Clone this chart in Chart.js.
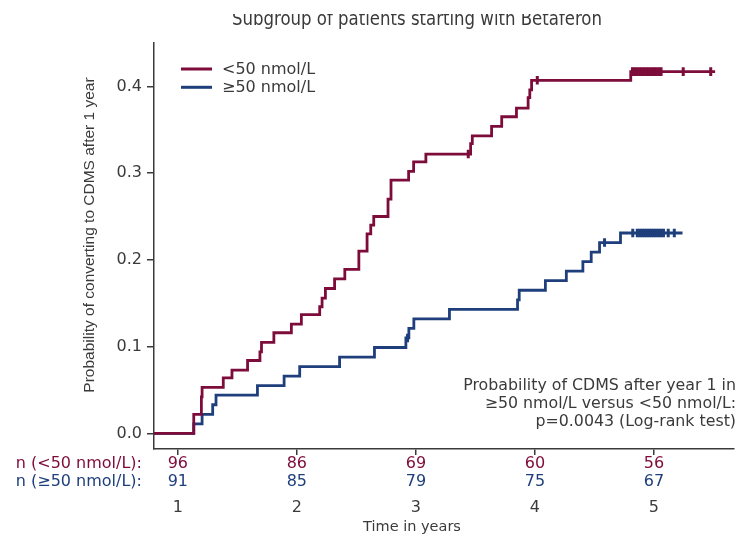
<!DOCTYPE html>
<html lang="en">
  <head>
    <meta charset="utf-8" />
    <title>CDMS after year 1 - Betaferon subgroup</title>
    <style>
      * {
        margin: 0;
        padding: 0;
      }
      body {
        background: white;
        width: 741px;
        height: 535px;
        overflow: hidden;
      }
    </style>
  </head>
  <body>
    <canvas id="kmChart" width="741" height="535"></canvas>

    <script src="https://cdn.jsdelivr.net/npm/chart.js"></script>
    <script>
      // ---- data ----
      const chartTitle = "Subgroup of patients starting with Betaferon";
      const yTitle = "Probability of converting to CDMS after 1 year";
      const xTitle = "Time in years";
      const groupLabels = ["<50 nmol/L", "≥50 nmol/L"];
      const riskRowLabels = ["n (<50 nmol/L):", "n (≥50 nmol/L):"];
      const noteLines = [
        "Probability of CDMS after year 1 in",
        "≥50 nmol/L versus <50 nmol/L:",
        "p=0.0043 (Log-rank test)",
      ];

      const xTicks = [1, 2, 3, 4, 5];
      const yTicks = [0, 0.1, 0.2, 0.3, 0.4];
      const atRiskLow = [96, 86, 69, 60, 56];
      const atRiskHigh = [91, 85, 79, 75, 67];

      // <50 nmol/L : step times and cumulative probability after each step
      const lowTimes = [
        0.8, 1.134, 1.198, 1.204, 1.382, 1.455, 1.586, 1.69, 1.703, 1.807,
        1.954, 2.038, 2.192, 2.212, 2.24, 2.317, 2.403, 2.521, 2.59, 2.621,
        2.646, 2.766, 2.791, 2.939, 2.981, 3.084, 3.46, 3.474, 3.636, 3.721,
        3.845, 3.943, 3.957, 3.972, 4.805, 5.514,
      ];
      const lowProb = [
        0, 0.022, 0.042, 0.053, 0.064, 0.073, 0.084, 0.094, 0.105, 0.116,
        0.126, 0.137, 0.146, 0.156, 0.167, 0.178, 0.189, 0.21, 0.23, 0.24,
        0.25, 0.27, 0.292, 0.302, 0.313, 0.322, 0.334, 0.343, 0.354, 0.365,
        0.375, 0.387, 0.396, 0.407, 0.417, 0.417,
      ];
      const lowCensor = [
        3.44, 4.02, 4.82, 4.84, 4.86, 4.88, 4.9, 4.92, 4.94, 4.96, 4.98, 5.0,
        5.02, 5.04, 5.06, 5.246, 5.477,
      ];

      // >=50 nmol/L
      const highTimes = [
        0.8, 1.134, 1.204, 1.293, 1.321, 1.669, 1.893, 2.024, 2.359, 2.652,
        2.916, 2.941, 2.983, 3.282, 3.854, 3.868, 4.088, 4.264, 4.403, 4.473,
        4.543, 4.719, 5.24,
      ];
      const highProb = [
        0, 0.011, 0.022, 0.033, 0.044, 0.055, 0.066, 0.077, 0.088, 0.099,
        0.11, 0.121, 0.132, 0.143, 0.154, 0.165, 0.176, 0.187, 0.198, 0.209,
        0.22, 0.231, 0.231,
      ];
      const highCensor = [
        2.93, 4.585, 4.822, 4.86, 4.88, 4.9, 4.92, 4.94, 4.96, 4.98, 5.0,
        5.02, 5.04, 5.06, 5.08, 5.12, 5.171,
      ];

      // ---- styles ----
      const RED = "#7d0c3b";
      const BLUE = "#1e3f7b";
      const AXIS = "#3a3a3a";
      const TEXT = "#3a3a3a";
      const SANS = "'DejaVu Sans', sans-serif";
      const NARROW = "'Liberation Sans Narrow', 'DejaVu Sans Condensed', sans-serif";

      const toPoints = (ts, ps) => ts.map((t, i) => ({ x: t, y: ps[i] }));
      const valueAt = (ts, ps, t) => {
        let v = ps[0];
        ts.forEach((tt, i) => {
          if (tt <= t) v = ps[i];
        });
        return v;
      };
      const censorPoints = (cs, ts, ps) =>
        cs.map((t) => ({ x: t, y: valueAt(ts, ps, t) }));

      // KM curve: horizontal first, then jump at the event time
      const curve = (label, data, color) => ({
        label,
        data,
        showLine: true,
        stepped: "before",
        borderColor: color,
        borderWidth: 2.8,
        pointRadius: 0,
        fill: false,
      });
      const censor = (data, color) => ({
        data,
        showLine: false,
        pointStyle: "line",
        rotation: 90,
        pointRadius: 4.3,
        borderColor: color,
        borderWidth: 3,
      });

      // draw text squeezed/stretched to a given width
      function fitText(ctx, text, cx, y, width, font, color) {
        ctx.save();
        ctx.font = font;
        ctx.fillStyle = color;
        ctx.textAlign = "center";
        ctx.textBaseline = "alphabetic";
        const k = width / ctx.measureText(text).width;
        ctx.translate(cx, y);
        ctx.scale(k, 1);
        ctx.fillText(text, 0, 0);
        ctx.restore();
      }

      // titles, legend, risk table and note
      const overlayText = {
        id: "overlayText",
        afterDraw(chart) {
          const {
            ctx,
            scales: { x },
          } = chart;

          // title (top edge is cropped in the source figure)
          ctx.save();
          ctx.beginPath();
          ctx.rect(0, 14, chart.width, 30);
          ctx.clip();
          fitText(ctx, chartTitle, 417, 25, 370, "20px " + NARROW, TEXT);
          ctx.restore();

          ctx.save();
          ctx.fillStyle = TEXT;

          // y axis title
          ctx.save();
          ctx.translate(90, 235);
          ctx.rotate(-Math.PI / 2);
          ctx.font = "15.5px 'Liberation Sans', sans-serif";
          ctx.textAlign = "center";
          ctx.textBaseline = "middle";
          ctx.fillText(yTitle, 0, 0);
          ctx.restore();

          // legend
          [RED, BLUE].forEach((c, i) => {
            const y = 69 + i * 18.3;
            ctx.strokeStyle = c;
            ctx.lineWidth = 3;
            ctx.beginPath();
            ctx.moveTo(181, y);
            ctx.lineTo(212, y);
            ctx.stroke();
            ctx.fillStyle = TEXT;
            ctx.font = "16px " + SANS;
            ctx.textAlign = "left";
            ctx.textBaseline = "middle";
            ctx.fillText(groupLabels[i], 222, y + 1);
          });

          // numbers at risk
          const rows = [
            [atRiskLow, RED, 464],
            [atRiskHigh, BLUE, 482],
          ];
          rows.forEach(([vals, c, y], i) => {
            ctx.fillStyle = c;
            ctx.textBaseline = "middle";
            ctx.font = "16px " + SANS;
            ctx.textAlign = "right";
            ctx.fillText(riskRowLabels[i], 142, y);
            ctx.textAlign = "center";
            vals.forEach((v, j) => {
              ctx.fillText(v, x.getPixelForValue(xTicks[j]), y);
            });
          });

          // x axis title
          ctx.fillStyle = TEXT;
          ctx.font = "14.5px " + SANS;
          ctx.textAlign = "center";
          ctx.textBaseline = "middle";
          ctx.fillText(xTitle, 412, 527);

          // log-rank note
          ctx.font = "15.8px " + SANS;
          ctx.textAlign = "right";
          noteLines.forEach((t, i) => {
            ctx.fillText(t, 736, 386 + i * 18);
          });

          ctx.restore();
        },
      };

      const config = {
        type: "scatter",
        data: {
          datasets: [
            curve(groupLabels[0], toPoints(lowTimes, lowProb), RED),
            censor(censorPoints(lowCensor, lowTimes, lowProb), RED),
            curve(groupLabels[1], toPoints(highTimes, highProb), BLUE),
            censor(censorPoints(highCensor, highTimes, highProb), BLUE),
          ],
        },
        options: {
          responsive: false,
          animation: false,
          devicePixelRatio: 1,
          layout: {
            padding: { top: 43, right: 4, left: 0, bottom: 0 },
          },
          plugins: {
            legend: { display: false },
            tooltip: { enabled: false },
          },
          scales: {
            x: {
              type: "linear",
              min: 0.8,
              max: 5.67,
              afterBuildTicks: (s) => {
                s.ticks = xTicks.map((v) => ({ value: v }));
              },
              afterFit: (s) => {
                s.height = 86;
              },
              grid: {
                drawOnChartArea: false,
                color: AXIS,
                lineWidth: 1.5,
                tickLength: 6,
              },
              border: { color: AXIS, width: 1.5 },
              ticks: {
                padding: 43,
                color: TEXT,
                maxRotation: 0,
                autoSkip: false,
                font: { family: SANS, size: 16 },
                callback: (v) => v,
              },
            },
            y: {
              min: -0.018,
              max: 0.45,
              afterBuildTicks: (s) => {
                s.ticks = yTicks.map((v) => ({ value: v }));
              },
              afterFit: (s) => {
                s.width = 154;
              },
              grid: {
                drawOnChartArea: false,
                color: AXIS,
                lineWidth: 1.5,
                tickLength: 7,
              },
              border: { color: AXIS, width: 1.5 },
              ticks: {
                padding: 5,
                color: TEXT,
                font: { family: SANS, size: 16 },
                callback: (v) => v.toFixed(1),
              },
            },
          },
        },
        plugins: [overlayText],
      };

      const kmChart = new Chart(document.getElementById("kmChart"), config);
    </script>
  </body>
</html>
